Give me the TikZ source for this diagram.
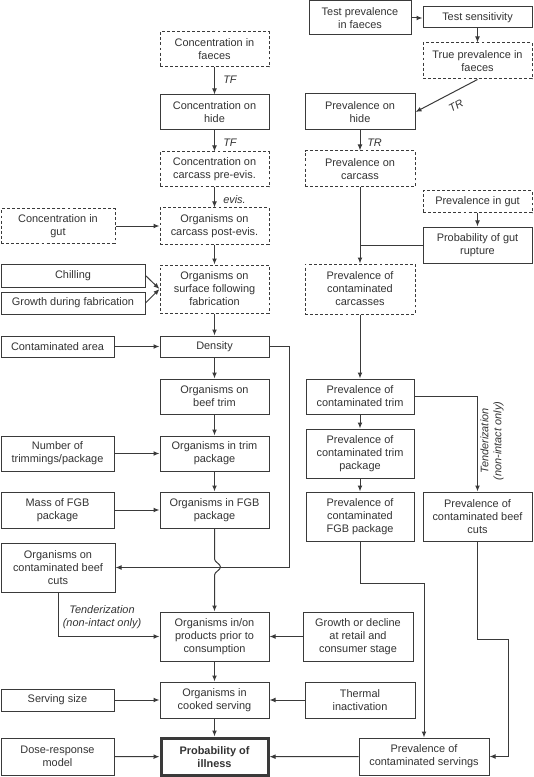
\documentclass[tikz,border=0pt]{standalone}
\usepackage{fontspec}
\setmainfont{Liberation Sans}
\usetikzlibrary{arrows.meta}
\definecolor{ink}{HTML}{333333}
\definecolor{edgec}{HTML}{3A3A3A}
\newcommand{\bx}[7][]{%
  \pgfmathsetmacro{\bxcx}{(#3+#5)/2}%
  \pgfmathsetmacro{\bxcy}{(#4+#6)/2}%
  \pgfmathsetmacro{\bxw}{(#5-#3)*0.75}%
  \pgfmathsetmacro{\bxh}{(#6-#4)*0.75}%
  \node[box,#1,minimum width=\bxw pt,minimum height=\bxh pt] (#2) at (\bxcx,\bxcy) {#7};}
\begin{document}
\begin{tikzpicture}[x=0.75pt,y=-0.75pt,
  box/.style={draw=edgec, line width=0.75pt, fill=white, align=center, inner sep=1pt, text=ink, font=\fontsize{8.2}{9.75}\selectfont},
  dbox/.style={dash pattern=on 2.2pt off 1.6pt},
  tbox/.style={line width=2.25pt, font=\fontsize{8.2}{9.75}\selectfont\bfseries},
  conn/.style={draw=edgec, line width=0.75pt, -{Latex[length=4.5pt,width=3.6pt]}},
  lnk/.style={draw=edgec, line width=0.75pt},
  lab/.style={text=ink, font=\fontsize{8.2}{9.75}\selectfont\itshape, inner sep=0pt, align=center}]
\useasboundingbox[fill=white] (0,0) rectangle (533,777);
% left-centre column
\bx[dbox]{cf}{160}{32}{269}{67}{Concentration in\\faeces}
\bx{ch}{160}{95}{269}{130}{Concentration on\\hide}
\bx[dbox]{cc}{160}{152}{269}{187}{Concentration on\\carcass pre-evis.}
\bx[dbox]{ocp}{160}{208}{269}{244}{Organisms on\\carcass post-evis.}
\bx[dbox]{osf}{160}{265}{269}{313}{Organisms on\\surface following\\fabrication}
\bx{den}{160}{336}{269}{357}{Density}
\bx{obt}{160}{379}{269}{414}{Organisms on\\beef trim}
\bx{otp}{160}{436}{269}{471}{Organisms in trim\\package}
\bx{ofp}{160}{492}{269}{528}{Organisms in FGB\\package}
\bx{oip}{160}{612}{269}{661}{Organisms in/on\\products prior to\\consumption}
\bx{ocs}{160}{682}{269}{718}{Organisms in\\cooked serving}
\bx[tbox]{poi}{161}{738}{268}{775.5}{Probability of\\illness}
% far left column
\bx[dbox]{cig}{1}{209}{115}{243}{Concentration in\\gut}
\bx{chi}{1}{264}{145}{287}{Chilling}
\bx{gdf}{1}{292}{145}{314}{Growth during fabrication}
\bx{ca}{1}{336}{114}{357}{Contaminated area}
\bx{ntp}{1}{436}{114}{471}{Number of\\trimmings/package}
\bx{mfp}{1}{492}{114}{528}{Mass of FGB\\package}
\bx{ocb}{1}{543}{115}{592}{Organisms on\\contaminated beef\\cuts}
\bx{ss}{1}{689}{114}{711}{Serving size}
\bx{dr}{1}{738}{114}{775}{Dose-response\\model}
% right columns
\bx{tpf}{309}{1}{411}{35}{Test prevalence\\in faeces}
\bx{ts}{423}{7}{532}{28}{Test sensitivity}
\bx[dbox]{tpif}{423}{43}{532}{79}{True prevalence in\\faeces}
\bx{ph}{305}{94}{415}{130}{Prevalence on\\hide}
\bx[dbox]{pc}{305}{151}{415}{187}{Prevalence on\\carcass}
\bx[dbox]{pig}{423}{191}{532}{213}{Prevalence in gut}
\bx{pgr}{423}{227}{532}{263}{Probability of gut\\rupture}
\bx[dbox]{pcc}{305}{264}{415}{314}{Prevalence of\\contaminated\\carcasses}
\bx{pct}{306}{379}{414}{414}{Prevalence of\\contaminated trim}
\bx{pctp}{306}{429}{414}{478}{Prevalence of\\contaminated trim\\package}
\bx{pcf}{306}{492}{414}{541}{Prevalence of\\contaminated\\FGB package}
\bx{pcb}{423}{492}{532}{541}{Prevalence of\\contaminated beef\\cuts}
\bx{gdr}{303}{612}{413}{661}{Growth or decline\\at retail and\\consumer stage}
\bx{ti}{305}{682}{415}{718}{Thermal\\inactivation}
\bx{pcs}{359}{738}{489}{775}{Prevalence of\\contaminated servings}
% labels
\node[lab, anchor=west] (tf1) at (223,80) {TF};
\node[lab, anchor=west] (tf2) at (223,143) {TF};
\node[lab, anchor=west] (ev) at (223,200) {evis.};
\node[lab, anchor=west] (tr2) at (367,143) {TR};
\node[lab, rotate=29] (tr1) at (456,106) {TR};
\node[lab] (ten1) at (102,617) {Tenderization\\(non-intact only)};
\node[lab, rotate=90] (ten2) at (492,441) {Tenderization\\(non-intact only)};
% connectors, left
\draw[conn] (cf) -- (ch);
\draw[conn] (ch) -- (cc);
\draw[conn] (cc) -- (ocp);
\draw[conn] (cig) -- (ocp);
\draw[conn] (ocp) -- (osf);
\draw[conn] (chi.east) -- (osf.west);
\draw[conn] (gdf.east) -- (osf.west);
\draw[conn] (osf) -- (den);
\draw[conn] (ca) -- (den);
\draw[conn] (den) -- (obt);
\draw[conn] (den.east) -- ++(20,0) |- (ocb.east);
\draw[conn] (obt) -- (otp);
\draw[conn] (ntp) -- (otp);
\draw[conn] (otp) -- (ofp);
\draw[conn] (mfp) -- (ofp);
\coordinate (j1) at (214.5,559);
\coordinate (j2) at (220.5,567);
\coordinate (j3) at (214.5,575);
\draw[conn] (ofp.south) -- (j1) .. controls (214.5,562) and (220.5,564) .. (j2) .. controls (220.5,570) and (214.5,572) .. (j3) -- (oip.north);
\draw[conn] (ocb.south) |- (oip.west);
\draw[conn] (gdr) -- (oip);
\draw[conn] (oip) -- (ocs);
\draw[conn] (ss) -- (ocs);
\draw[conn] (ti) -- (ocs);
\draw[conn] (ocs) -- (poi);
\draw[conn] (dr) -- (poi);
\draw[conn] (pcs) -- (poi);
% connectors, right
\draw[conn] (tpf.east) -- (ts.west |- tpf.east);
\draw[conn] (ts) -- (tpif);
\draw[conn] (tpif.south) -- (ph.east);
\draw[conn] (ph) -- (pc);
\draw[conn] (pc) -- (pcc);
\draw[conn] (pig) -- (pgr);
\draw[lnk] (pgr.west) -- (pgr.west -| pc.south);
\draw[conn] (pcc) -- (pct);
\draw[conn] (pct.east) -| (pcb.north);
\draw[conn] (pct) -- (pctp);
\draw[conn] (pctp) -- (pcf);
\draw[conn] (pcf.south) -- ++(0,42) -| (pcs.north);
\draw[conn] (pcb.south) -- ++(0,98) -- ++(30.5,0) |- (pcs.east);
\end{tikzpicture}
\end{document}
